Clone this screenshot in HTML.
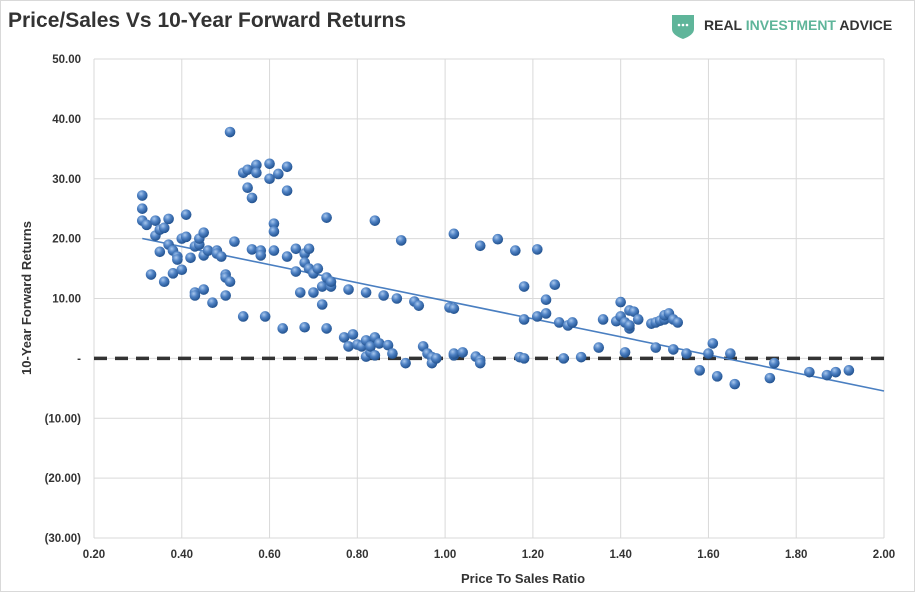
<!DOCTYPE html>
<html><head><meta charset="utf-8"><style>
body{margin:0;background:#fff;width:923px;height:596px;overflow:hidden;font-family:"Liberation Sans",sans-serif}
</style></head><body>
<svg width="923" height="596" viewBox="0 0 923 596" style="font-family:'Liberation Sans',sans-serif">
<defs>
<radialGradient id="ball" cx="0.38" cy="0.32" r="0.7">
<stop offset="0" stop-color="#a9c8ee"/><stop offset="0.45" stop-color="#4f82c4"/><stop offset="1" stop-color="#1f4f8c"/>
</radialGradient>
</defs>
<rect x="0.5" y="0.5" width="914" height="591" fill="#fff" stroke="#d9d9d9"/>
<text x="8" y="27" font-size="21" font-weight="bold" fill="#333">Price/Sales Vs 10-Year Forward Returns</text>
<g>
<path d="M672 15 h22 v14 q0 6 -11 10 q-11 -4 -11 -10 z" fill="#5fb59a"/>
<circle cx="679" cy="25" r="1.3" fill="#fff"/><circle cx="683" cy="25" r="1.3" fill="#fff"/><circle cx="687" cy="25" r="1.3" fill="#fff"/>
<text x="704" y="30" font-size="14" font-weight="bold" fill="#333">REAL <tspan fill="#5fb59a">INVESTMENT</tspan> ADVICE</text>
</g>
<g id="grid"></g><g id="axes"></g><g id="marks"></g>
<text x="523" y="583" font-size="13" font-weight="bold" fill="#333" text-anchor="middle">Price To Sales Ratio</text>
<text transform="translate(31,298) rotate(-90)" font-size="13" font-weight="bold" fill="#333" text-anchor="middle">10-Year Forward Returns</text>
</svg>
<script>
const xTicks=[0.2,0.4,0.6,0.8,1.0,1.2,1.4,1.6,1.8,2.0];
const yTicks=[50,40,30,20,10,0,-10,-20,-30];
const ratioX=[0.31,0.31,0.31,0.32,0.33,0.34,0.34,0.35,0.35,0.36,0.36,0.37,0.37,0.38,0.38,0.39,0.39,0.40,0.40,0.41,0.41,0.42,0.43,0.43,0.43,0.44,0.44,0.45,0.45,0.45,0.46,0.47,0.48,0.48,0.49,0.50,0.50,0.50,0.51,0.51,0.52,0.54,0.54,0.55,0.55,0.56,0.56,0.57,0.57,0.58,0.58,0.59,0.60,0.60,0.61,0.61,0.61,0.62,0.63,0.64,0.64,0.64,0.66,0.66,0.67,0.68,0.68,0.68,0.69,0.69,0.70,0.70,0.71,0.72,0.72,0.73,0.73,0.73,0.74,0.74,0.77,0.78,0.78,0.79,0.80,0.81,0.82,0.82,0.82,0.83,0.83,0.84,0.84,0.84,0.85,0.86,0.87,0.88,0.89,0.90,0.91,0.93,0.94,0.95,0.96,0.97,0.97,0.98,1.01,1.02,1.02,1.02,1.02,1.04,1.07,1.08,1.08,1.08,1.12,1.16,1.17,1.18,1.18,1.18,1.21,1.21,1.23,1.23,1.25,1.26,1.27,1.28,1.29,1.31,1.35,1.36,1.39,1.40,1.40,1.41,1.41,1.42,1.42,1.42,1.43,1.44,1.47,1.48,1.48,1.49,1.50,1.50,1.51,1.52,1.52,1.53,1.55,1.58,1.60,1.61,1.62,1.65,1.66,1.74,1.75,1.83,1.87,1.89,1.92];
const returnsY=[27.2,25,23,22.3,14,20.5,23,21.5,17.8,12.8,21.8,23.3,19,14.2,18,17,16.5,14.8,20,20.3,24,16.8,18.7,11,10.5,19,20,17.2,21,11.5,18,9.3,18,17.5,17,10.5,14,13.5,12.8,37.8,19.5,7,31,28.5,31.5,26.8,18.2,32.3,31,18,17.2,7,30,32.5,22.5,18,21.2,30.8,5,32,28,17,18.3,14.5,11,17.5,5.2,16,15,18.3,14.2,11,15,9,12,23.5,13.5,5,12,12.8,3.5,11.5,2,4,2.3,2,0.3,3,11,1,2,3.5,0.5,23,2.5,10.5,2.2,0.8,10,19.7,-0.8,9.5,8.8,2,0.8,0.2,-0.8,0,8.5,8.3,20.8,0.5,0.8,1,0.3,-0.3,-0.8,18.8,19.9,18,0.2,0,6.5,12,18.2,7,9.8,7.5,12.3,6,0,5.5,6,0.2,1.8,6.5,6.2,9.4,7,6,1,5,8,5.5,7.8,6.5,5.8,1.8,6,6.3,6.5,7.2,7.5,1.5,6.5,6,0.8,-2,0.8,2.5,-3,0.8,-4.3,-3.3,-0.8,-2.3,-2.8,-2.3,-2];
const NS='http://www.w3.org/2000/svg';
const X0=94,X1=884,Y0=59,Y1=538;
const sx=v=>X0+(v-0.2)/(2.0-0.2)*(X1-X0);
const sy=v=>Y1-(v+30)/80*(Y1-Y0);
function mk(tag,attrs,parent){const e=document.createElementNS(NS,tag);for(const k in attrs)e.setAttribute(k,attrs[k]);document.getElementById(parent).appendChild(e);return e;}
const fmt=v=>v===0?'-':(v<0?'('+Math.abs(v).toFixed(2)+')':v.toFixed(2));
xTicks.forEach(t=>{
  const l=mk('line',{x1:sx(t),x2:sx(t),y1:Y0,y2:Y1,stroke:'#d9d9d9','stroke-width':1},'grid');
  
  
  const tx=mk('text',{x:sx(t),y:Y1+20,'font-size':11.5,'font-weight':'bold',fill:'#333','text-anchor':'middle'},'axes');
  tx.textContent=t.toFixed(2);
  
  
});
yTicks.forEach(t=>{
  const l=mk('line',{x1:X0,x2:X1,y1:sy(t),y2:sy(t),stroke:'#d9d9d9','stroke-width':1},'grid');
  
  
  const tx=mk('text',{x:X0-13,y:sy(t)+4,'font-size':11.5,'font-weight':'bold',fill:'#333','text-anchor':'end'},'axes');
  tx.textContent=fmt(t);
  
  
});
const z=mk('line',{x1:X0,x2:X1,y1:sy(0),y2:sy(0),stroke:'#333','stroke-width':3.5,'stroke-dasharray':'13 8'},'marks');


// trendline via least squares
const n=ratioX.length;let mx=0,my=0;ratioX.forEach((x,i)=>{mx+=x;my+=returnsY[i];});mx/=n;my/=n;
let num=0,den=0;ratioX.forEach((x,i)=>{num+=(x-mx)*(returnsY[i]-my);den+=(x-mx)*(x-mx);});
const slope=num/den,icpt=my-slope*mx;const xmin=Math.min(...ratioX);
const tl=mk('line',{x1:sx(xmin),y1:sy(icpt+slope*xmin),x2:sx(2.0),y2:sy(icpt+slope*2.0),stroke:'#4a7fc1','stroke-width':1.6},'marks');


ratioX.forEach((x,i)=>{
  const c=mk('circle',{cx:sx(x),cy:sy(returnsY[i]),r:5.3,fill:'url(#ball)'},'marks');
  
  
});
</script>
</body></html>
